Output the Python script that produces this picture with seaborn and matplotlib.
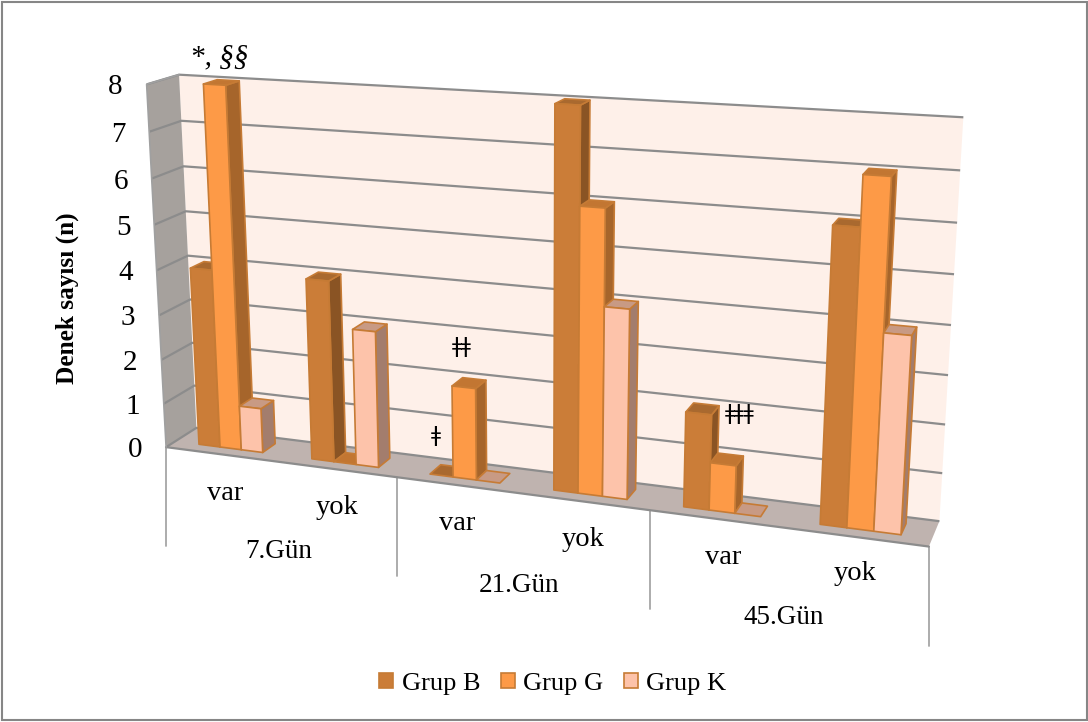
import numpy as np
import pandas as pd
import matplotlib
matplotlib.use("Agg")
import matplotlib.pyplot as plt
from matplotlib.patches import Polygon, Rectangle
import seaborn as sns

# Subjects per group, by day and presence of the finding
gunler = ["7.Gün", "21.Gün", "45.Gün"]
durumlar = ["var", "yok"]
grup_b = [4, 4, 0, 8, 2, 6]
grup_g = [8, 0, 2, 6, 1, 7]
grup_k = [1, 3, 0, 4, 0, 4]
gruplar = ["Grup B", "Grup G", "Grup K"]

front_colors = ["#CB7D38", "#FD9A47", "#FDC3AA"]
side_colors = ["#8A5424", "#A6652B", "#A37D6D"]
top_colors = ["#A9692F", "#C27632", "#C89A84"]
edge_color = "#C67B35"

sns.set_theme(style="white")
plt.rcParams["font.family"] = ["Liberation Serif", "DejaVu Serif", "DejaVu Sans"]

W, H = 1088, 722
fig = plt.figure(figsize=(W / 100, H / 100), dpi=100, facecolor="white")

# Seaborn lays the grouped bars out; its axes stay hidden and supply the geometry
kategoriler = [f"{g} {d}" for g in gunler for d in durumlar]
df = pd.DataFrame({
    "kategori": kategoriler * 3,
    "grup": np.repeat(gruplar, 6),
    "n": grup_b + grup_g + grup_k,
})
ax_data = fig.add_axes([0, 0, 0.01, 0.01])
sns.barplot(data=df, x="kategori", y="n", hue="grup", hue_order=gruplar,
            palette=front_colors, saturation=1, width=0.57, gap=0,
            errorbar=None, ax=ax_data)
bar_info = sorted(
    ((p.get_x(), p.get_width(), p.get_height(), g)
     for g, cont in enumerate(ax_data.containers) for p in cont),
    key=lambda t: t[0])
handles, labels = ax_data.get_legend_handles_labels()
ax_data.get_legend().remove()
ax_data.set_visible(False)

# Camera: world (category, value, depth) onto the canvas, solved from the box corners
box_world = np.array([
    [-0.5, 0, 0], [5.5, 0, 0], [5.5, 0, 1], [-0.5, 0, 1],
    [-0.5, 8, 1], [5.5, 8, 1], [-0.5, 8, 0],
], float)
box_canvas = np.array([
    [167.5, 448], [928.3, 546.7], [940, 521], [195, 427],
    [180, 75.7], [963.3, 117.3], [145.7, 83.3],
], float)
rows = []
for (u, v, d), (x, y) in zip(box_world, box_canvas):
    rows.append([u, v, d, 1, 0, 0, 0, 0, -x * u, -x * v, -x * d, -x])
    rows.append([0, 0, 0, 0, u, v, d, 1, -y * u, -y * v, -y * d, -y])
cam = np.linalg.svd(np.array(rows))[2][-1].reshape(3, 4)


def project(u, v, d):
    q = cam @ np.array([u, v, d, 1.0])
    return q[0] / q[2], q[1] / q[2]


ax = fig.add_axes([0, 0, 1, 1])
ax.set_xlim(0, W)
ax.set_ylim(H, 0)
ax.axis("off")

ax.add_patch(Rectangle((1.5, 1.5), W - 3, H - 4, fc="white", ec="#868686", lw=1.5))


def face(corners, fc, ec="none", lw=0.0, z=1):
    ax.add_patch(Polygon([project(*c) for c in corners], closed=True, fc=fc, ec=ec,
                         lw=lw, zorder=z, joinstyle="round"))


# Walls and floor
U0, U1, VMAX = -0.5, 5.5, 8
face([(U0, 0, 1), (U1, 0, 1), (U1, VMAX, 1), (U0, VMAX, 1)], "#FEF0E9")
face([(U0, 0, 0), (U0, 0, 1), (U0, VMAX, 1), (U0, VMAX, 0)], "#A6A19D")
face([(U0, 0, 0), (U1, 0, 0), (U1, 0, 1), (U0, 0, 1)], "#BFB3AF")

grid = "#8C8C8C"
for v in range(0, VMAX + 1):
    pts = [project(U0, v, 0), project(U0, v, 1), project(U1, v, 1)]
    ax.plot(*zip(*pts), color=grid, lw=1.6, zorder=2, solid_capstyle="butt")
ax.plot(*zip(project(U0, 0, 0), project(U1, 0, 0)), color=grid, lw=1.6, zorder=2)
ax.plot(*zip(project(U0, 0, 0), project(U0, VMAX, 0), project(U0, VMAX, 1)),
        color="#A0A0A0", lw=1.2, zorder=2)

# Bars, painted left to right so each one hides the flank of its neighbour
D0, D1 = 0.30, 0.74
for k, (x, w, h, g) in enumerate(bar_info):
    z = 3 + k * 0.01
    x1 = x + w
    if h > 0:
        face([(x1, 0, D0), (x1, 0, D1), (x1, h, D1), (x1, h, D0)], side_colors[g], edge_color, 1.2, z)
    face([(x, h, D0), (x1, h, D0), (x1, h, D1), (x, h, D1)], top_colors[g], edge_color, 1.2, z)
    if h > 0:
        face([(x, 0, D0), (x1, 0, D0), (x1, h, D0), (x, h, D0)], front_colors[g], edge_color, 1.2, z)

# Value axis labels follow the slanted front edge of the left wall
for v in range(0, VMAX + 1):
    px, py = project(U0, v, 0)
    ax.text(px - 31, py + 3, str(v), ha="center", va="center", fontsize=21, color="black")

ax.text(67, 298, "Denek sayısı (n)", rotation=90, ha="center", va="center",
        fontsize=18.2, fontweight="bold", color="black")

# Category separators under the floor and the two label rows
sep = "#A6A6A6"
for u in (U0, 1.5, 3.5, U1):
    px, py = project(u, 0, 0)
    ax.plot([px, px], [py, py + 99], color=sep, lw=1.3, zorder=1)

for lbl, (px, py) in zip(durumlar * 3, [(225, 493), (337, 507), (457, 524),
                                        (583, 539), (723, 558), (855, 574)]):
    ax.text(px, py, lbl, ha="center", va="center", fontsize=20.5, color="black")
for lbl, (px, py) in zip(gunler, [(279, 552), (519, 585), (784, 618)]):
    ax.text(px, py, lbl, ha="center", va="center", fontsize=19.5, color="black")

# Significance marks beside the bars
ax.text(219, 57, "*, §§", ha="center", va="center", fontsize=21, style="italic", color="black")
marks = ["DejaVu Sans"]
ax.text(436, 436, "ǂ", ha="center", va="center", fontsize=15.5, family=marks, color="black")
ax.text(462, 347, "ǂǂ", ha="center", va="center", fontsize=15.5, family=marks, color="black")
ax.text(740, 414, "ǂǂǂ", ha="center", va="center", fontsize=15.5, family=marks, color="black")

leg = fig.legend(handles, labels, ncol=3, frameon=False, fontsize=19,
                 loc="center", bbox_to_anchor=(553 / W, 1 - 684 / H),
                 handlelength=0.52, handleheight=0.52, handletextpad=0.33, columnspacing=0.78,
                 labelcolor="black")
for patch in leg.get_patches():
    patch.set_edgecolor(edge_color)
    patch.set_linewidth(1.2)

fig.savefig("out.png", dpi=100)
